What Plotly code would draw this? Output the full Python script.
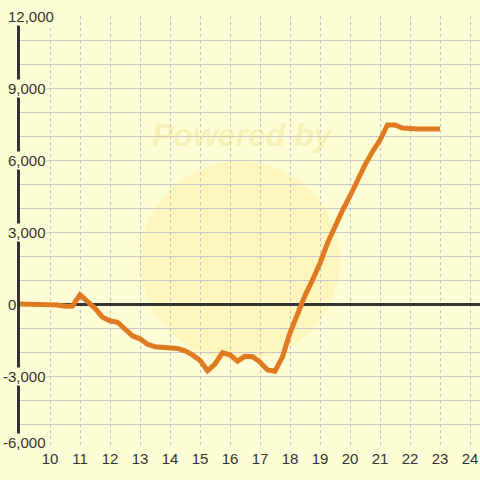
import plotly.graph_objects as go

BG = "#fefed6"

hours = [9.0, 9.25, 9.5, 9.75, 10.0, 10.25, 10.5, 10.75, 11.0, 11.25, 11.5, 11.75,
         12.0, 12.25, 12.5, 12.75, 13.0, 13.25, 13.5, 13.75, 14.0, 14.25, 14.5, 14.75,
         15.0, 15.25, 15.5, 15.75, 16.0, 16.25, 16.5, 16.75, 17.0, 17.25, 17.5, 17.75,
         18.0, 18.25, 18.5, 18.75, 19.0, 19.25, 19.5, 19.75, 20.0, 20.25, 20.5, 20.75,
         21.0, 21.25, 21.5, 21.75, 22.0, 22.25, 22.5, 22.75, 23.0]
values = [0, 0, 0, 0, 0, -40, -90, -80, 380, 120, -180, -550,
          -700, -760, -1050, -1330, -1450, -1680, -1780, -1800, -1830, -1850, -1950, -2120,
          -2350, -2780, -2500, -2030, -2120, -2380, -2180, -2200, -2420, -2750, -2800, -2200,
          -1200, -400, 350, 1000, 1700, 2540, 3250, 3900, 4500, 5200, 5800, 6350,
          6830, 7460, 7460, 7330, 7290, 7290, 7290, 7290, 7290]

x_ticks = list(range(10, 25))
y_ticks = [12000, 9000, 6000, 3000, 0, -3000, -6000]

fig = go.Figure()

# faint watermark
fig.add_shape(type="circle", xref="x", yref="y", x0=13.0, x1=19.67, y0=-2350, y1=5950,
              fillcolor="rgba(255,214,90,0.2)", line=dict(width=0), layer="below")
fig.add_annotation(text="<b><i>Powered by</i></b>", xref="x", yref="y", x=16.43, y=7040,
                   showarrow=False, font=dict(size=32, color="rgba(232,210,110,0.3)",
                                              family="Liberation Sans"))

fig.add_trace(go.Scatter(
    x=hours, y=values, mode="lines",
    line=dict(color="#e07a22", width=5),
    hoverinfo="skip", showlegend=False
))

for v in y_ticks:
    fig.add_annotation(
        text=f"{v:,}", xref="paper", yref="y",
        x=(7 - 20) / 460 if v >= 0 else (2 - 20) / 460,
        y=v, xanchor="left", yanchor="middle", showarrow=False,
        yshift=6 if v == -6000 else 0,
        bgcolor=BG, borderpad=0,
        font=dict(size=15, color="#333333", family="Liberation Sans")
    )

fig.update_xaxes(
    range=[9, 24.333], tickvals=x_ticks, ticktext=[str(t) for t in x_ticks],
    showgrid=True, gridcolor="#c0c0c0", griddash="3px,3px", gridwidth=1,
    zeroline=False, showline=False, ticks="", automargin=False,
    tickfont=dict(size=15, color="#333333", family="Liberation Sans")
)
fig.update_yaxes(
    range=[-6000, 12000], dtick=1000, showticklabels=False,
    showgrid=True, gridcolor="#c8c8c8", gridwidth=1, automargin=False,
    zeroline=True, zerolinecolor="#333333", zerolinewidth=3,
    showline=True, linecolor="#333333", linewidth=3, ticks=""
)

fig.update_layout(
    width=480, height=480,
    paper_bgcolor=BG, plot_bgcolor=BG,
    margin=dict(l=20, r=0, t=16, b=32),
    font=dict(family="Liberation Sans"),
    showlegend=False
)

fig.write_html("out.html", config={"displayModeBar": False},
               post_script=f"document.body.style.margin='0';document.body.style.background='{BG}';")
